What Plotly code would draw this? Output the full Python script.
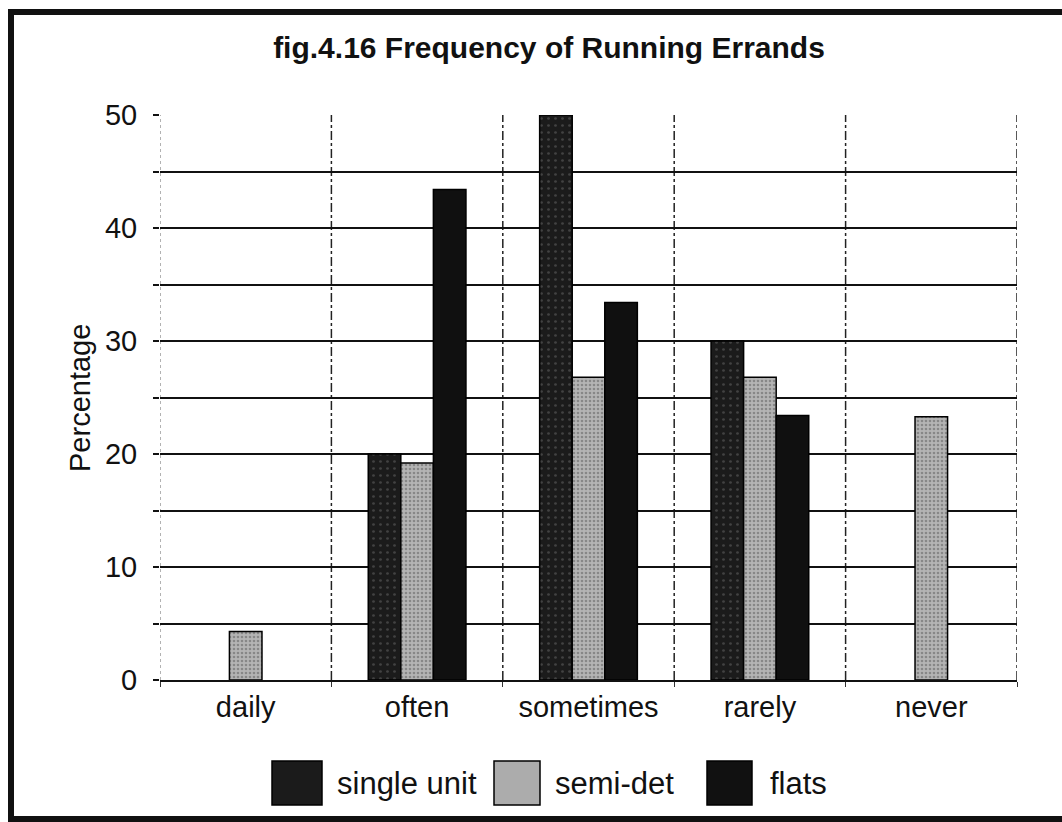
import plotly.graph_objects as go

# Survey results: share of respondents (%) by housing type
categories = ["daily", "often", "sometimes", "rarely", "never"]
single_unit = [0, 20.0, 50.0, 30.0, 0]
semi_det = [4.3, 19.2, 26.8, 26.8, 23.3]
flats = [0, 43.4, 33.4, 23.4, 0]

series_names = ["single unit", "semi-det", "flats"]
y_ticks = [0, 10, 20, 30, 40, 50]

FONT = "Arial, Liberation Sans, sans-serif"

# plot area in pixels (used to place decorations in paper coordinates)
W, H = 1062, 822
L, R, T, B = 160, 1017, 115, 680


def px(x):
    return (x - L) / (R - L)


def py(y):
    return (B - y) / (B - T)


styles = [
    dict(color="#1b1b1b", pattern=dict(shape=".", fgcolor="#6a6a6a", bgcolor="#1b1b1b",
                                       size=7, solidity=0.12)),
    dict(color="#a6a6a6", pattern=dict(shape=".", fgcolor="#5a5a5a", bgcolor="#b4b4b4",
                                       size=4, solidity=0.35)),
    dict(color="#101010"),
]

fig = go.Figure()
for name, vals, st in zip(series_names, [single_unit, semi_det, flats], styles):
    # no outline on empty (zero-height) bars
    widths = [1.5 if v > 0 else 0 for v in vals]
    fig.add_trace(go.Bar(
        x=categories, y=vals, name=name,
        marker=dict(line=dict(color="#000000", width=widths), **st),
        showlegend=False,
    ))

shapes = []
# dashed separators between the categories
for i, xb in enumerate([-0.5, 0.5, 1.5, 2.5, 3.5, 4.5]):
    shapes.append(dict(
        type="line", xref="x", yref="paper", x0=xb, x1=xb, y0=0, y1=1,
        line=dict(color="#999999" if i == 0 else "#222222", width=1.5,
                  dash="dot" if i == 0 else "dashdot"),
        layer="below",
    ))

# hand-made legend with large swatches
leg_swatch = [(272, 322), (494, 540), (707, 752)]
leg_text_x = [335, 553, 768]
leg_fill = ["#1b1b1b", "#acacac", "#111111"]
annotations = []
for (x0, x1), tx, fill, name in zip(leg_swatch, leg_text_x, leg_fill, series_names):
    shapes.append(dict(
        type="rect", xref="paper", yref="paper",
        x0=px(x0), x1=px(x1), y0=py(805), y1=py(761),
        fillcolor=fill, line=dict(color="#000000", width=1.5),
    ))
    annotations.append(dict(
        text=name, xref="paper", yref="paper", x=px(tx), y=py(783),
        xanchor="left", yanchor="middle", showarrow=False,
        font=dict(family=FONT, size=31, color="#111111"),
    ))

# outer frame around the whole figure
shapes.append(dict(
    type="rect", xref="paper", yref="paper",
    x0=px(11), x1=px(1075), y0=py(819), y1=py(12),
    line=dict(color="#111111", width=6), fillcolor="rgba(0,0,0,0)",
))

# y-axis title
annotations.append(dict(
    text="Percentage", xref="paper", yref="paper", x=px(80), y=py(398),
    xanchor="center", yanchor="middle", textangle=-90, showarrow=False,
    font=dict(family=FONT, size=29, color="#111111"),
))

fig.update_layout(
    width=W, height=H,
    margin=dict(l=L, r=W - R, t=T, b=H - B, pad=0),
    paper_bgcolor="white", plot_bgcolor="white",
    barmode="group", bargap=0.43, bargroupgap=0,
    title=dict(text="<b>fig.4.16 Frequency of Running Errands</b>",
               x=549 / W, xref="container", xanchor="center",
               y=1 - 47 / H, yanchor="middle",
               font=dict(family=FONT, size=30, color="#111111")),
    font=dict(family=FONT, color="#111111"),
    shapes=shapes, annotations=annotations,
)

fig.update_xaxes(
    type="category", range=[-0.5, 4.5],
    showline=True, linecolor="#111111", linewidth=2,
    ticks="outside", tickson="boundaries", ticklen=5, tickcolor="#333333",
    showgrid=False,
    tickfont=dict(family=FONT, size=29, color="#111111"),
)

fig.update_yaxes(
    range=[0, 50], tickvals=y_ticks, ticktext=[str(v) for v in y_ticks],
    showline=False, zeroline=False,
    showgrid=True, gridcolor="#111111", gridwidth=2,
    ticks="outside", ticklen=6, tickcolor="#111111", tickwidth=2,
    minor=dict(dtick=5, showgrid=True, gridcolor="#111111", gridwidth=2,
               ticks="outside", ticklen=6, tickcolor="#111111"),
    tickfont=dict(family=FONT, size=29, color="#111111"),
    ticklabelstandoff=10,
)

fig.write_html("out.html")
